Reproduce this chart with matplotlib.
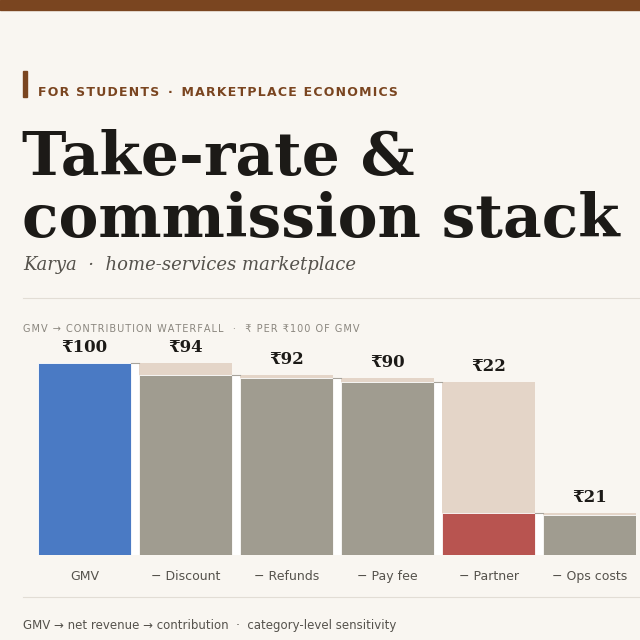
import matplotlib.pyplot as plt
from matplotlib.patches import Rectangle

categories = ['GMV', '− Discount', '− Refunds', '− Pay fee', '− Partner', '− Ops costs']
steps = [100, -6, -2, -2, -68, -1]
labels = ['₹100', '₹94', '₹92', '₹90', '₹22', '₹21']

BG = '#f9f6f1'
BROWN = '#7a4520'
BLUE = '#4a7ac4'
GREY = '#a09c90'
GHOST = '#e4d5c8'
RED = '#b85450'
INK = '#1c1a17'

HS = '\u200a'


def spaced(s, n=1):
    return (HS * n).join(s)


fig = plt.figure(figsize=(6.4, 6.4), dpi=100, facecolor=BG)


def fy(y):
    return 1 - y / 640


# top band
fig.patches.append(Rectangle((0, fy(10)), 1, 10 / 640, transform=fig.transFigure,
                             color=BROWN, zorder=0))
# accent bar
fig.patches.append(Rectangle((23 / 640, fy(97)), 4 / 640, 26 / 640, transform=fig.transFigure,
                             color=BROWN, zorder=0))
fig.text(38 / 640, fy(96.5), spaced('FOR STUDENTS') + '  ·  ' + spaced('MARKETPLACE ECONOMICS'),
         color=BROWN, fontsize=9, fontweight='bold', va='baseline',
         family=['DejaVu Sans'])

fig.text(22 / 640, fy(175), 'Take-rate &', fontsize=43, fontweight='bold', color=INK,
         family='DejaVu Serif', va='baseline')
fig.text(22 / 640, fy(237), 'commission stack', fontsize=43, fontweight='bold', color=INK,
         family='DejaVu Serif', va='baseline')
fig.text(23 / 640, fy(270), 'Karya  ·  home-services marketplace', fontsize=13,
         style='italic', color='#55524c', family='DejaVu Serif', va='baseline')

fig.add_artist(plt.Line2D([23 / 640, 1], [fy(298), fy(298)], color='#e2ddd5', lw=0.8))
fig.text(23 / 640, fy(332), spaced('GMV → CONTRIBUTION WATERFALL') + '   ·   ' +
         spaced('₹ PER ₹100 OF GMV'), fontsize=7, color='#8a867e', va='baseline',
         family=['DejaVu Sans'])

ax = fig.add_axes([38 / 640, fy(555), 598 / 640, (555 - 335) / 640])
ax.set_facecolor(BG)
ax.set_xlim(-0.46, 5.46)
ax.set_ylim(0, 100 * (555 - 335) / 192)
for s in ax.spines.values():
    s.set_visible(False)
ax.set_xticks([])
ax.set_yticks([])

w = 0.92
total = 0
for i, (cat, st, lab) in enumerate(zip(categories, steps, labels)):
    prev = total
    total = total + st
    if i == 0:
        ax.bar(i, total, width=w, color=BLUE, edgecolor='white', linewidth=0.6, zorder=2)
        top = total
    else:
        # white gap + connector at previous running total
        ax.bar(i - 0.5, prev, width=1 - w, color='white', edgecolor='none', zorder=1)
        ax.bar(i, prev, width=w, color=GHOST, edgecolor='none', zorder=1)
        col = RED if cat == '− Partner' else GREY
        ax.bar(i, total, width=w, color=col, edgecolor='white', linewidth=0.6, zorder=2)
        top = prev
        ax.plot([i - 1 + w / 2, i - w / 2], [prev, prev], color='#a8a49c', lw=0.8, zorder=3)
    ax.annotate(lab, (i, top), xytext=(0, 5), textcoords='offset points', ha='center',
                va='bottom', fontsize=12, fontweight='bold', color=INK,
                family=['DejaVu Serif', 'DejaVu Sans'])
    ax.text(i, -11, cat, ha='center', va='center', fontsize=9, color='#55524c')

fig.add_artist(plt.Line2D([23 / 640, 1], [fy(597), fy(597)], color='#e2ddd5', lw=0.8))
fig.text(23 / 640, fy(629), 'GMV → net revenue → contribution  ·  category-level sensitivity',
         fontsize=8.5, color='#55524c', va='baseline')

fig.savefig('out.png', dpi=100, facecolor=BG)
